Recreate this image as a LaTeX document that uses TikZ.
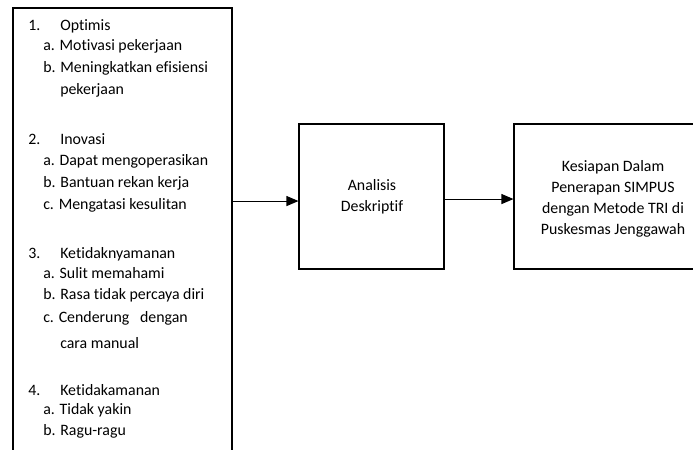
\documentclass[tikz,border=0pt]{standalone}
\usepackage{fontspec}
\setmainfont{Carlito}[Ligatures={NoCommon}]
\usetikzlibrary{arrows.meta}
\begin{document}
\begin{tikzpicture}[x=0.75pt,y=-0.75pt,
  box/.style={draw,line width=0.8pt,inner sep=0pt},
  txt/.style={anchor=base west,inner sep=0pt,font=\fontsize{11.9pt}{14pt}\selectfont},
  ctxt/.style={align=center,inner sep=0pt,font=\fontsize{11.9pt}{15.8pt}\selectfont},
  arr/.style={line width=0.8pt,-{Triangle[length=9pt,width=7.5pt]}}]
\useasboundingbox (0,0) rectangle (693,450);
% boxes
\node[box,minimum width=164.25pt,minimum height=346.5pt] (L) at (122.5,239) {};
\node[box,minimum width=108.75pt,minimum height=108.75pt] (M) at (371.5,196.5) {};
\node[box,minimum width=139.5pt,minimum height=108.75pt] (R) at (607,196.5) {};
% left texts
\node[txt] (n1) at (28,30) {1.};
\node[txt] (t1) at (60,30) {Optimis};
\node[txt] (t1a) at (43,50) {a. Motivasi pekerjaan};
\node[txt] (t1b) at (43,72) {b. Meningkatkan efisiensi};
\node[txt] (t1c) at (60,94) {pekerjaan};
\node[txt] (n2) at (28,144) {2.};
\node[txt] (t2) at (60,144) {Inovasi};
\node[txt] (t2a) at (43,165) {a. Dapat mengoperasikan};
\node[txt] (t2b) at (43,187) {b. Bantuan rekan kerja};
\node[txt] (t2c) at (43,209) {c. Mengatasi kesulitan};
\node[txt] (n3) at (28,258) {3.};
\node[txt] (t3) at (60,258) {Ketidaknyamanan};
\node[txt] (t3a) at (43,278) {a. Sulit memahami};
\node[txt] (t3b) at (43,299) {b. Rasa tidak percaya diri};
\node[txt] (t3c) at (43,322) {c. Cenderung\ \ \ dengan};
\node[txt] (t3d) at (60,348) {cara manual};
\node[txt] (n4) at (28,395) {4.};
\node[txt] (t4) at (60,395) {Ketidakamanan};
\node[txt] (t4a) at (43,414) {a. Tidak yakin};
\node[txt] (t4b) at (43,435) {b. Ragu-ragu};
% middle and right texts
\node[ctxt] (mt) at (372,197) {Analisis\\Deskriptif};
\node[ctxt] (rt) at (613,199) {Kesiapan Dalam\\Penerapan SIMPUS\\dengan Metode TRI di\\Puskesmas Jenggawah};
% arrows
\coordinate (ma) at ([yshift=-3.4pt]M.west);
\coordinate (ra) at ([yshift=-1.9pt]R.west);
\draw[arr] (L.east |- ma) -- (ma);
\draw[arr] (M.east |- ra) -- (ra);
\end{tikzpicture}
\end{document}
